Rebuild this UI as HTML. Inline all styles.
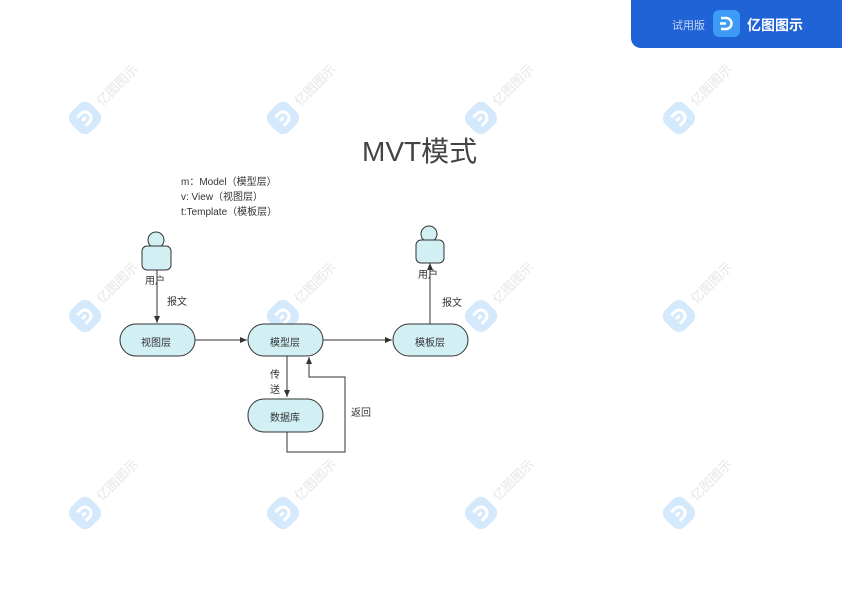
<!DOCTYPE html>
<html><head><meta charset="utf-8"><style>
body{margin:0;width:842px;height:595px;background:#fff;position:relative;overflow:hidden;font-family:"Liberation Sans","Noto Sans CJK SC",sans-serif;color:#333}
.t{position:absolute;white-space:nowrap}
</style></head><body>
<svg width="842" height="595" style="position:absolute;left:0;top:0">
<defs><marker id="a" markerWidth="8" markerHeight="8" refX="7" refY="4" orient="auto" markerUnits="userSpaceOnUse"><path d="M0,1 L7,4 L0,7z" fill="#333"/></marker>
<g id="wm"><rect x="-14" y="-14" width="28" height="28" rx="9" fill="#d4e9fb" transform="rotate(-45)"/><path d="M-5,-6 h5 a6,6 0 0 1 0,12 h-5 M-4,0 h5" stroke="#fff" stroke-width="3" fill="none" transform="rotate(-45)"/><text x="20" y="4" font-size="13" fill="#e6e6e6" transform="rotate(-45)" font-family="Noto Sans CJK SC,sans-serif">亿图图示</text></g>
</defs>
<g>
<use href="#wm" x="85" y="118"/><use href="#wm" x="283" y="118"/><use href="#wm" x="481" y="118"/><use href="#wm" x="679" y="118"/>
<use href="#wm" x="85" y="316"/><use href="#wm" x="283" y="316"/><use href="#wm" x="481" y="316"/><use href="#wm" x="679" y="316"/>
<use href="#wm" x="85" y="513"/><use href="#wm" x="283" y="513"/><use href="#wm" x="481" y="513"/><use href="#wm" x="679" y="513"/>
</g>
<path d="M631,0 H842 V48 H641 a10,10 0 0 1 -10,-10z" fill="#1f63d6"/>
<rect x="713" y="10" width="27" height="27" rx="6" fill="#3d9bf5"/>
<path d="M721,18 h5 a5.5,5.5 0 0 1 0,11 h-5 M720,23.5 h6" stroke="#fff" stroke-width="2.5" fill="none"/>
<g stroke="#333" stroke-width="1" fill="none">
<line x1="157" y1="270" x2="157" y2="323" marker-end="url(#a)"/>
<line x1="195" y1="340" x2="247" y2="340" marker-end="url(#a)"/>
<line x1="323" y1="340" x2="392" y2="340" marker-end="url(#a)"/>
<line x1="287" y1="356" x2="287" y2="397" marker-end="url(#a)"/>
<path d="M287,432 V452 H345 V377 H309 V357" marker-end="url(#a)"/>
<line x1="430" y1="324" x2="430" y2="263" marker-end="url(#a)"/>
</g>
<g fill="#d2eff4" stroke="#333" stroke-width="1">
<rect x="120" y="324" width="75" height="32" rx="16"/>
<rect x="248" y="324" width="75" height="32" rx="16"/>
<rect x="393" y="324" width="75" height="32" rx="16"/>
<rect x="248" y="399" width="75" height="33" rx="16"/>
<circle cx="156" cy="240" r="8"/><rect x="142" y="246" width="29" height="24" rx="5"/>
<circle cx="429" cy="234" r="8"/><rect x="416" y="240" width="28" height="23" rx="5"/>
</g>
</svg>
<div class="t" style="left:672px;top:17px;font-size:11px;color:#c8d8f5">试用版</div>
<div class="t" style="left:747px;top:15px;font-size:14px;color:#fff;font-weight:bold">亿图图示</div>
<div class="t" style="left:362px;top:130px;font-size:28px;color:#444">MVT模式</div>
<div class="t" style="left:181px;top:175px;font-size:10px;line-height:15px">m：Model（模型层）<br>v: View（视图层）<br>t:Template（模板层）</div>
<div class="t" style="left:145px;top:272px;font-size:10px">用户</div>
<div class="t" style="left:418px;top:266px;font-size:10px">用户</div>
<div class="t" style="left:167px;top:293px;font-size:10px">报文</div>
<div class="t" style="left:442px;top:294px;font-size:10px">报文</div>
<div class="t" style="left:141px;top:334px;font-size:10px">视图层</div>
<div class="t" style="left:270px;top:334px;font-size:10px">模型层</div>
<div class="t" style="left:415px;top:334px;font-size:10px">模板层</div>
<div class="t" style="left:270px;top:409px;font-size:10px">数据库</div>
<div class="t" style="left:270px;top:368px;font-size:10px;line-height:15px">传<br>送</div>
<div class="t" style="left:351px;top:404px;font-size:10px">返回</div>
</body></html>
